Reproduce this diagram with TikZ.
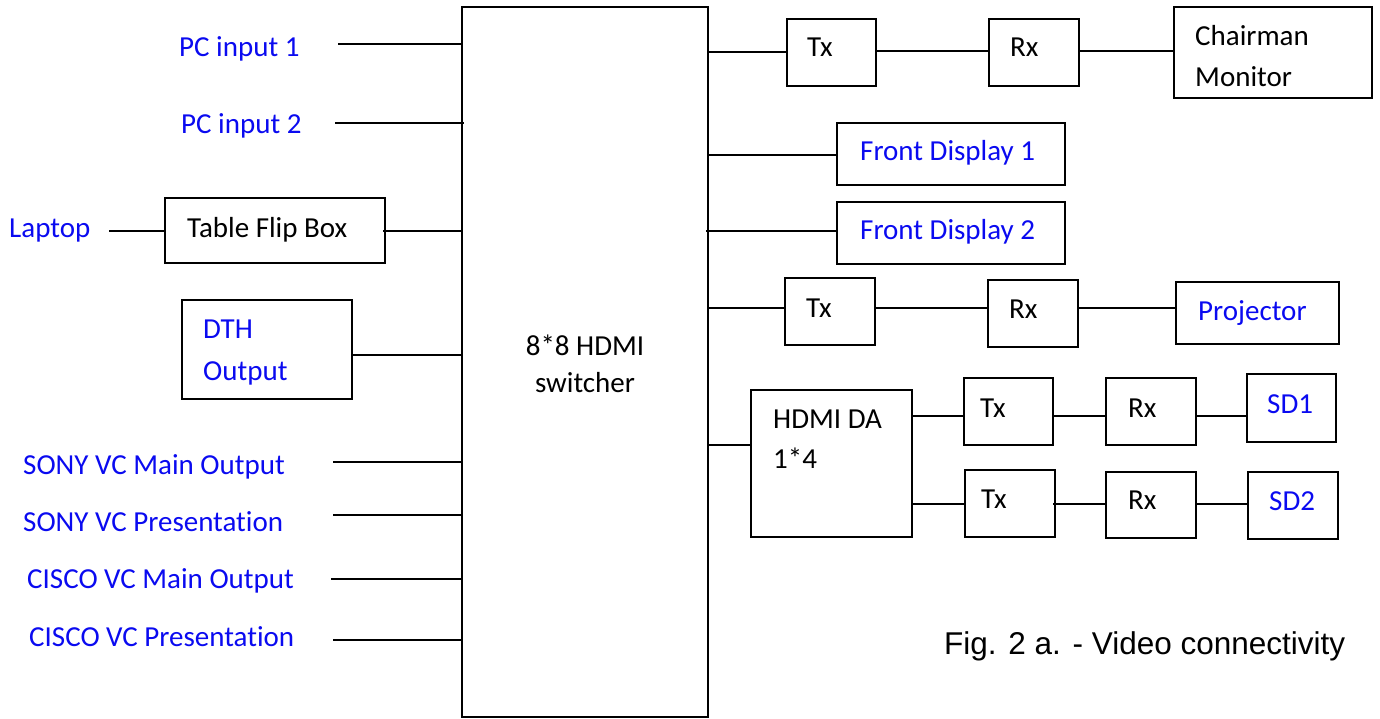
\documentclass[tikz,border=0pt]{standalone}
\usepackage{fontspec}
\setmainfont{Carlito}[Ligatures=NoCommon]
\newfontfamily\capfont{Liberation Sans}
\usetikzlibrary{fit}
\definecolor{lblue}{RGB}{10,10,240}
\tikzset{
  box/.style={draw, line width=2pt, inner sep=0pt},
  wire/.style={line width=2pt},
  lbl/.style={anchor=base west, inner sep=0pt, font=\fontsize{29}{32}\selectfont},
  blbl/.style={lbl, text=lblue}
}
\begin{document}
\begin{tikzpicture}[x=1pt,y=-1pt]
\useasboundingbox (0,0) rectangle (1380,719);
% main switcher
\node[box, fit={(462,7) (708,717)}] (sw) {};
\node[lbl, anchor=base] (swt1) at (585,355) {8*8 HDMI};
\node[lbl, anchor=base] (swt2) at (585,392) {switcher};
% ---------- left side
\node[blbl] (pc1) at (179,57) {PC input 1};
\coordinate (pc1c) at (338,44);
\draw[wire] (pc1c) -- (pc1c -| sw.west);
\node[blbl] (pc2) at (181,134) {PC input 2};
\coordinate (pc2c) at (335,123);
\draw[wire] (pc2c) -- ([xshift=3pt]pc2c -| sw.west);
\node[blbl] (lap) at (9,238) {Laptop};
\node[box, fit={(165,198) (385,263)}] (flip) {};
\node[lbl] (flipt) at (187,237) {Table Flip Box};
\coordinate (lapc) at (109,231);
\draw[wire] (lapc) -- (lapc -| flip.west);
\draw[wire] ([xshift=-3pt]flip.east |- lapc) -- (lapc -| sw.west);
\node[box, fit={(182,300) (352,399)}] (dth) {};
\node[blbl] (dtht1) at (203,338) {DTH};
\node[blbl] (dtht2) at (203,380) {Output};
\coordinate (dthc) at (352,355);
\draw[wire] (dthc) -- (dthc -| sw.west);
\node[blbl] (sm) at (23,474) {SONY VC Main Output};
\coordinate (smc) at (333,462);
\draw[wire] (smc) -- (smc -| sw.west);
\node[blbl] (sp) at (23,531) {SONY VC Presentation};
\coordinate (spc) at (333,515);
\draw[wire] (spc) -- (spc -| sw.west);
\node[blbl] (cm) at (27,588) {CISCO VC Main Output};
\coordinate (cmc) at (331,579);
\draw[wire] (cmc) -- (cmc -| sw.west);
\node[blbl] (cp) at (29,646) {CISCO VC Presentation};
\coordinate (cpc) at (333,640);
\draw[wire] (cpc) -- (cpc -| sw.west);
% ---------- right side: chairman chain
\node[box, fit={(787,19) (876,86)}] (tx1) {};
\node[lbl] at (807,57) {Tx};
\node[box, fit={(989,19) (1079,86)}] (rx1) {};
\node[lbl] at (1010,57) {Rx};
\node[box, fit={(1174,7) (1372,98)}] (cm1) {};
\node[lbl] at (1195,46) {Chairman};
\node[lbl] at (1195,87) {Monitor};
\coordinate (r1) at (708,52);
\coordinate (r1b) at (708,51);
\draw[wire] (r1) -- (r1 -| tx1.west);
\draw[wire] (r1b -| tx1.east) -- (r1b -| rx1.west) (r1b -| rx1.east) -- (r1b -| cm1.west);
% front displays
\node[box, fit={(837,123) (1065,185)}] (fd1) {};
\node[blbl] at (860,161) {Front Display 1};
\coordinate (r2) at (708,155);
\draw[wire] (r2) -- (r2 -| fd1.west);
\node[box, fit={(837,202) (1065,264)}] (fd2) {};
\node[blbl] at (860,240) {Front Display 2};
\coordinate (r3) at (706,231);
\draw[wire] (r3) -- (r3 -| fd2.west);
% projector chain
\node[box, fit={(785,278) (875,345)}] (tx2) {};
\node[lbl] at (806,317) {Tx};
\node[box, fit={(988,280) (1078,347)}] (rx2) {};
\node[lbl] at (1009,318) {Rx};
\node[box, fit={(1176,282) (1339,344)}] (proj) {};
\node[blbl] at (1198,320) {Projector};
\coordinate (r4) at (708,308);
\draw[wire] (r4) -- (r4 -| tx2.west) (r4 -| tx2.east) -- (r4 -| rx2.west) (r4 -| rx2.east) -- (r4 -| proj.west);
% HDMI DA
\node[box, fit={(751,390) (912,537)}] (da) {};
\node[lbl] at (773,428) {HDMI DA};
\node[lbl] at (773,468) {1*4};
\coordinate (r5) at (708,445);
\draw[wire] (r5) -- (r5 -| da.west);
\node[box, fit={(964,378) (1053,445)}] (tx3) {};
\node[lbl] at (980,417) {Tx};
\node[box, fit={(1106,378) (1196,445)}] (rx3) {};
\node[lbl] at (1128,417) {Rx};
\node[box, fit={(1247,374) (1336,442)}] (sd1) {};
\node[blbl] at (1267,413) {SD1};
\coordinate (r6) at (912,416);
\draw[wire] (r6) -- (r6 -| tx3.west) (r6 -| tx3.east) -- (r6 -| rx3.west) (r6 -| rx3.east) -- (r6 -| sd1.west);
\node[box, fit={(965,470) (1055,537)}] (tx4) {};
\node[lbl] at (981,508) {Tx};
\node[box, fit={(1106,472) (1196,538)}] (rx4) {};
\node[lbl] at (1128,509) {Rx};
\node[box, fit={(1248,472) (1338,539)}] (sd2) {};
\node[blbl] at (1269,510) {SD2};
\coordinate (r7) at (912,504);
\draw[wire] (r7) -- (r7 -| tx4.west) ([xshift=-3pt]r7 -| tx4.east) -- (r7 -| rx4.west) (r7 -| rx4.east) -- (r7 -| sd2.west);
% caption
\node[anchor=base west, inner sep=0pt, font=\capfont\fontsize{31.5}{36}\selectfont] (cap) at (944,654) {Fig. 2 a. - Video connectivity};
\end{tikzpicture}
\end{document}
